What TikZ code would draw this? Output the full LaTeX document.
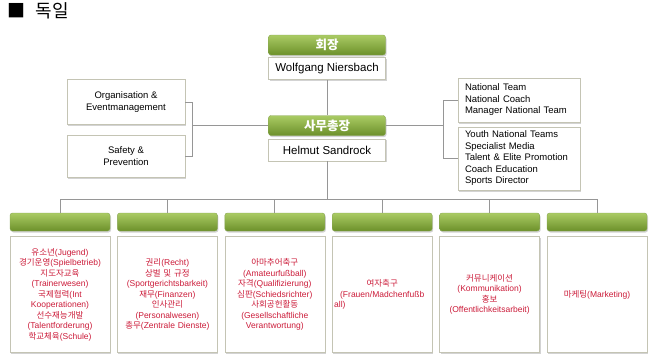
\documentclass[tikz,border=0pt]{standalone}
\usepackage{fontspec}
\setmainfont{Liberation Sans}
\newfontfamily\kr{Noto Sans CJK KR}
\usepackage{xcolor}
\usetikzlibrary{positioning,shadows}

\definecolor{grtop}{RGB}{170,203,100}
\definecolor{grbot}{RGB}{108,144,42}
\definecolor{boxline}{RGB}{196,196,180}
\definecolor{linegray}{RGB}{150,150,150}
\definecolor{redtxt}{RGB}{204,28,58}

\begin{document}
\begin{tikzpicture}[
    x=1pt, y=-1pt,
    shade/.style={drop shadow={shadow xshift=1pt, shadow yshift=-1.5pt, opacity=0.35, fill=gray}},
    head/.style={rectangle, rounded corners=2.5pt, top color=grtop, bottom color=grbot, draw=grbot!80,
        minimum width=117pt, minimum height=20pt, inner sep=0pt, text=white,
        font=\kr\bfseries\fontsize{12.5}{14}\selectfont, shade},
    namebox/.style={rectangle, draw=boxline, fill=white, minimum width=117pt, minimum height=22pt,
        inner sep=0pt, font=\fontsize{11.5}{13}\selectfont, shade},
    sidebox/.style={rectangle, draw=boxline, fill=white, inner sep=0pt,
        font=\fontsize{9.5}{11.5}\selectfont, shade},
    colhead/.style={head, minimum width=100pt, minimum height=18pt},
    colbox/.style={rectangle, draw=boxline, fill=white, text width=96pt, inner sep=2pt,
        minimum height=116pt, align=center, text=redtxt, font=\fontsize{8.5}{10.5}\selectfont, shade},
    link/.style={draw=linegray, line width=0.8pt}
]
\useasboundingbox (0,0) rectangle (658,360);

% title
\node[anchor=west, font=\kr\fontsize{18}{20}\selectfont] (title) at (4,11) {■\hspace{10pt}독일};

% president and general secretary
\node[head] (prhead) at (327,45) {회장};
\node[namebox, below=2pt of prhead] (pres) {Wolfgang Niersbach};
\node[head] (gshead) at (327,125.5) {사무총장};
\node[namebox, below=3pt of gshead] (gs) {Helmut Sandrock};

% staff units
\node[sidebox, minimum width=118pt, minimum height=45pt, align=center] (org) at (126,102) {Organisation \&\\Eventmanagement};
\node[sidebox, minimum width=118pt, minimum height=42pt, align=center] (safety) at (126,156) {Safety \&\\Prevention};
\node[sidebox, text width=108pt, inner xsep=7pt, minimum height=44pt, align=left] (natteam) at (519,100) {National Team\\National Coach\\Manager National Team};
\node[sidebox, text width=108pt, inner xsep=7pt, minimum height=63pt, align=left] (youth) at (519,158.5) {Youth National Teams\\Specialist Media\\Talent \& Elite Promotion\\Coach Education\\Sports Director};

\draw[link] (pres.south) -- (gshead.north);
\draw[link] (gshead.west) -- ++(-76,0) coordinate (lbr);
\draw[link] (org.east) -| (lbr) |- (safety.east);
\draw[link] (gshead.east) -- ++(58,0) coordinate (rbr);
\draw[link] (natteam.west) -| (rbr) |- (youth.west);
\draw[link] (gs.south) -- ++(0,38) coordinate (bus);

% departments
\foreach \i/\txt in {
    1/{{\kr 유소년}(Jugend)\\{\kr 경기운영}(Spielbetrieb)\\{\kr 지도자교육}\\(Trainerwesen)\\{\kr 국제협력}(Int\\Kooperationen)\\{\kr 선수재능개발}\\(Talentforderung)\\{\kr 학교체육}(Schule)},
    2/{{\kr 권리}(Recht)\\{\kr 상벌 및 규정}\\(Sportgerichtsbarkeit)\\{\kr 재무}(Finanzen)\\{\kr 인사관리}\\(Personalwesen)\\{\kr 총무}(Zentrale Dienste)},
    3/{{\kr 아마추어축구}\\(Amateurfußball)\\{\kr 자격}(Qualifizierung)\\{\kr 심판}(Schiedsrichter)\\{\kr 사회공헌활동}\\(Gesellschaftliche\\Verantwortung)},
    4/{{\kr 여자축구}\\(Frauen/Madchenfußb\\all)\hspace*{\fill}},
    5/{{\kr 커뮤니케이션}\\(Kommunikation)\\{\kr 홍보}\\(Offentlichkeitsarbeit)},
    6/{{\kr 마케팅}(Marketing)}} {
    \node[colhead] (ch\i) at ({60+107.4*(\i-1)},222) {};
    \node[colbox, below=5pt of ch\i] (cb\i) {\txt};
    \draw[link] (bus) -| (ch\i.north);
}
\end{tikzpicture}
\end{document}
